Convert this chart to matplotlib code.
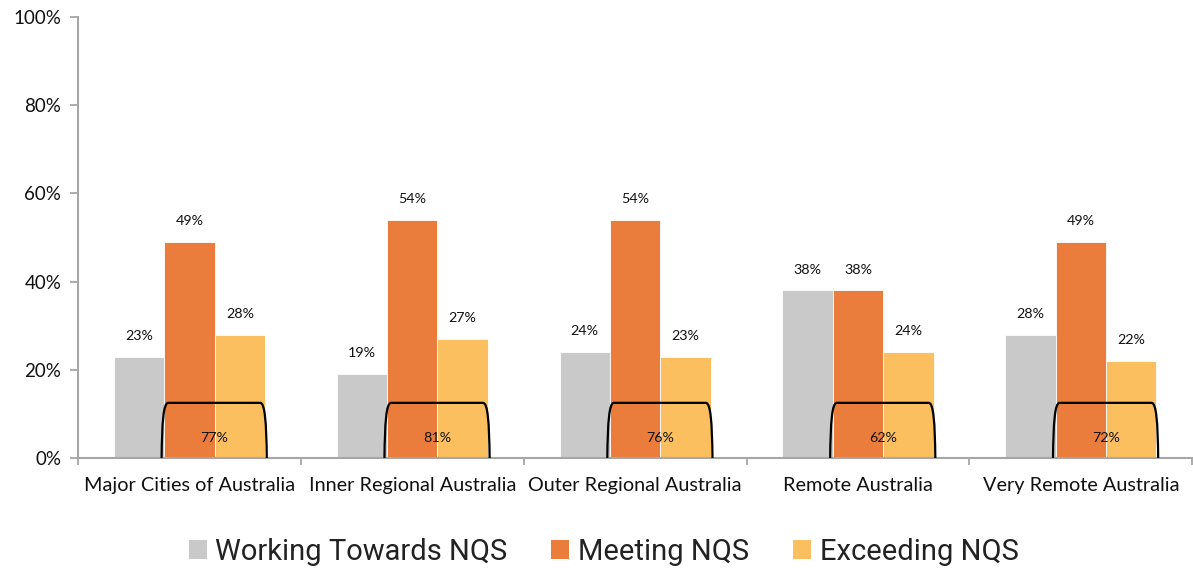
import matplotlib
matplotlib.use("Agg")
import matplotlib.pyplot as plt
import numpy as np
from matplotlib.path import Path
from matplotlib.patches import PathPatch, Patch

regions = ["Major Cities of Australia", "Inner Regional Australia",
           "Outer Regional Australia", "Remote Australia", "Very Remote Australia"]
working = [23, 19, 24, 38, 28]
meeting = [49, 54, 54, 38, 49]
exceeding = [28, 27, 23, 24, 22]
meeting_or_above = [77, 81, 76, 62, 72]
series_names = ["Working Towards NQS", "Meeting NQS", "Exceeding NQS"]
colors = ["#C9C9C9", "#EB7D3C", "#FBBF5F"]
y_ticks = [0, 20, 40, 60, 80, 100]

main_font = ["Lato", "DejaVu Sans"]
legend_font = ["Roboto", "DejaVu Sans"]

fig = plt.figure(figsize=(11.93, 5.71), dpi=100)
ax = fig.add_axes([0.0654, 0.198, 0.934, 0.772])

x = np.arange(len(regions))
w = 0.226
series = [working, meeting, exceeding]
for i, (vals, col) in enumerate(zip(series, colors)):
    xs = x + (i - 1) * w
    ax.bar(xs, vals, width=w, color=col, edgecolor="white", linewidth=0.6, zorder=2)
    for xi, v in zip(xs, vals):
        ax.annotate(f"{v}%", (xi, v), xytext=(0, 15), textcoords="offset points",
                    ha="center", va="center", fontsize=10.3, family=main_font,
                    color="#111111")

# Rounded brackets grouping Meeting + Exceeding, with combined share
top = 12.5
for xi, total in zip(x, meeting_or_above):
    L = xi - w / 2 - 0.012
    R = xi + 1.5 * w + 0.008
    verts = [(L, 0), (L + 0.002, top * 0.65), (L + 0.008, top), (L + 0.03, top),
             (R - 0.03, top),
             (R - 0.008, top), (R - 0.002, top * 0.65), (R, 0)]
    codes = [Path.MOVETO, Path.CURVE4, Path.CURVE4, Path.CURVE4,
             Path.LINETO,
             Path.CURVE4, Path.CURVE4, Path.CURVE4]
    ax.add_patch(PathPatch(Path(verts, codes), facecolor="none", edgecolor="black",
                           linewidth=1.6, zorder=3, clip_on=False))
    ax.text(xi + w / 2, 4.5, f"{total}%", ha="center", va="center", fontsize=10.3,
            family=main_font, color="#111111", zorder=4)

ax.set_xlim(-0.5, len(regions) - 0.5)
ax.set_ylim(0, 100)
ax.set_yticks(y_ticks)
ax.set_yticklabels([f"{t}%" for t in y_ticks], fontsize=13.5, family=main_font)
ax.set_xticks(x)
ax.set_xticklabels(regions, fontsize=14.3, family=main_font)
ax.set_xticks(np.arange(-0.5, len(regions), 1.0), minor=True)
ax.tick_params(axis="x", which="major", length=0, pad=14, colors="#111111")
ax.tick_params(axis="x", which="minor", length=5, width=1.3, color="#A6A6A6")
ax.tick_params(axis="y", length=6, width=1.3, color="#A6A6A6", pad=6, labelcolor="#111111")

for s in ["top", "right"]:
    ax.spines[s].set_visible(False)
for s in ["left", "bottom"]:
    ax.spines[s].set_color("#A6A6A6")
    ax.spines[s].set_linewidth(1.5)
ax.spines["left"].set_bounds(0, 100)

handles = [Patch(facecolor=c, edgecolor="none") for c in colors]
fig.legend(handles, series_names, loc="center", bbox_to_anchor=(0.506, 0.033),
           ncol=3, frameon=False, prop={"family": legend_font, "size": 21},
           handlelength=0.62, handleheight=0.62, handletextpad=0.3,
           columnspacing=1.5, labelcolor="#222222")

fig.savefig("out.png", dpi=100)
